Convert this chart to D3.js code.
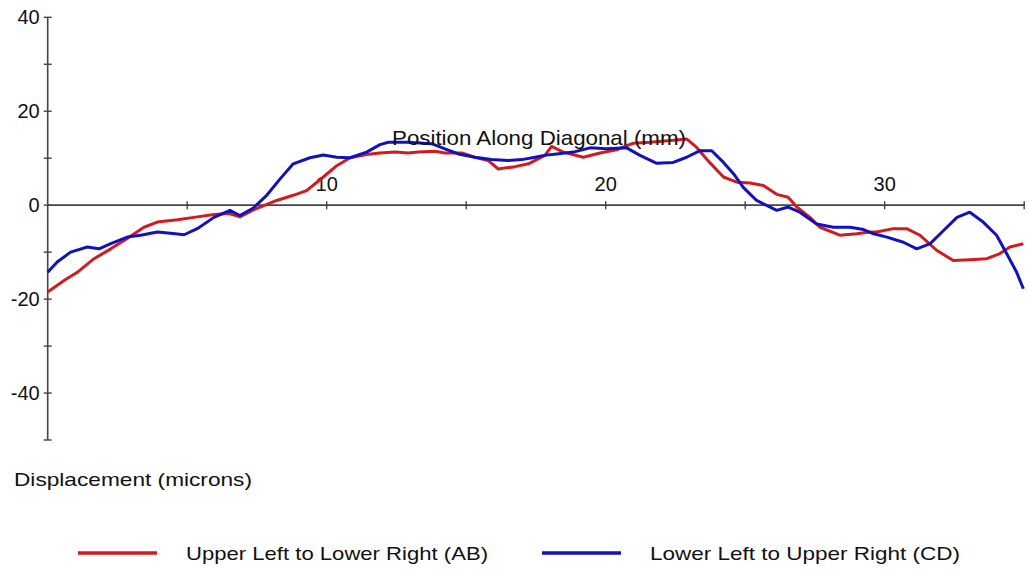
<!DOCTYPE html>
<html>
<head>
  <script src="https://d3js.org/d3.v7.min.js"></script>
  <style>
    body { margin: 0; background: #fff; }
    text { font-family: "Liberation Sans", Arial, sans-serif; fill: #111; }
  </style>
</head>
<body>
  <svg id="chart"></svg>
  <script>
    // position along diagonal (mm) and displacement (microns)
    var abX = [0.0, 0.6, 1.06, 1.66, 2.26, 2.85, 3.45, 3.93, 4.65, 5.24, 5.96, 6.5, 6.89, 7.37, 8.21, 8.8, 9.28, 9.88, 10.36, 10.84, 11.43, 11.91, 12.45, 12.92, 13.28, 13.88, 14.24, 14.84, 15.31, 15.79, 16.15, 16.75, 17.23, 17.82, 18.06, 18.48, 19.2, 19.8, 20.39, 20.99, 21.59, 22.42, 22.9, 23.26, 23.74, 24.22, 24.7, 25.17, 25.65, 26.13, 26.54, 26.85, 27.32, 27.68, 28.39, 29.0, 29.47, 29.71, 30.31, 30.79, 31.26, 31.86, 32.46, 33.05, 33.66, 34.13, 34.49, 34.97];
    var abY = [-18.5, -16, -14.3, -11.4, -9.3, -7.1, -4.7, -3.6, -3.1, -2.6, -2.0, -1.8, -2.5, -1.0, 1.0, 2.1, 3.1, 6.0, 8.4, 10.1, 10.8, 11.1, 11.3, 11.1, 11.3, 11.5, 11.1, 11.1, 10.2, 9.5, 7.7, 8.2, 8.8, 10.6, 12.5, 11.3, 10.2, 11.1, 11.8, 13.2, 13.4, 13.8, 14.1, 12.3, 9.0, 6.0, 4.9, 4.7, 4.2, 2.3, 1.7, -0.4, -2.6, -4.7, -6.4, -6.1, -5.7, -5.7, -5.0, -5.0, -6.4, -9.6, -11.8, -11.6, -11.4, -10.3, -8.9, -8.2];

    var cdX = [0.0, 0.34, 0.82, 1.42, 1.84, 2.26, 2.85, 3.33, 3.93, 4.41, 4.89, 5.36, 5.96, 6.53, 6.89, 7.37, 7.85, 8.33, 8.8, 9.4, 9.88, 10.36, 10.84, 11.43, 11.91, 12.21, 12.92, 13.76, 14.24, 14.72, 15.31, 15.91, 16.51, 16.99, 17.47, 17.8, 18.24, 18.84, 19.44, 20.04, 20.75, 21.23, 21.83, 22.42, 22.9, 23.38, 23.8, 24.22, 24.58, 24.93, 25.41, 26.13, 26.54, 26.96, 27.56, 28.16, 28.76, 29.24, 29.6, 30.08, 30.67, 31.15, 31.63, 32.11, 32.59, 33.05, 33.53, 34.01, 34.37, 34.73, 34.97];
    var cdY = [-14.3, -12.1, -10.0, -8.9, -9.3, -8.2, -6.8, -6.4, -5.7, -6.0, -6.3, -5.0, -2.6, -1.1, -2.2, -0.6, 2.1, 5.6, 8.8, 10.1, 10.7, 10.2, 10.1, 11.3, 12.9, 13.4, 13.4, 13.1, 12.0, 10.9, 10.2, 9.7, 9.5, 9.7, 10.2, 10.6, 10.9, 11.3, 12.2, 12.0, 12.2, 10.6, 8.9, 9.1, 10.2, 11.6, 11.6, 9.1, 6.7, 3.8, 1.0, -1.1, -0.4, -1.5, -4.0, -4.7, -4.7, -5.2, -6.1, -6.8, -7.9, -9.3, -8.2, -5.4, -2.6, -1.5, -3.6, -6.4, -10.3, -14.3, -17.8];

    var xMajor = [10, 20, 30];
    var xTicks = [5, 10, 15, 20, 25, 30, 35];
    var yMajor = [40, 20, 0, -20, -40];
    var yTicks = [40, 30, 20, 10, 0, -10, -20, -30, -40, -50];

    var seriesNames = ['Upper Left to Lower Right (AB)', 'Lower Left to Upper Right (CD)'];
    var colors = ['#d01c1f', '#1212bd'];

    var W = 1029, H = 571;
    var svg = d3.select('#chart').attr('width', W).attr('height', H);

    var x = d3.scaleLinear().domain([0, 35]).range([47.7, 1024.2]);
    var y = d3.scaleLinear().domain([-50, 40]).range([440, 17.3]);

    var axisColor = '#444';

    // x axis through zero
    svg.append('line')
      .attr('x1', x(0)).attr('x2', x(35))
      .attr('y1', y(0)).attr('y2', y(0))
      .attr('stroke', axisColor).attr('stroke-width', 1.6);
    svg.selectAll('.xtick').data(xTicks).enter().append('line')
      .attr('x1', function(d) { return x(d); }).attr('x2', function(d) { return x(d); })
      .attr('y1', y(0) - 4).attr('y2', y(0) + 4)
      .attr('stroke', axisColor).attr('stroke-width', 1.4);
    svg.selectAll('.xlab').data(xMajor).enter().append('text')
      .attr('x', function(d) { return x(d); })
      .attr('y', y(0) - 14)
      .attr('text-anchor', 'middle')
      .style('font-size', '20px')
      .text(function(d) { return d; });

    // y axis
    svg.append('line')
      .attr('x1', x(0)).attr('x2', x(0))
      .attr('y1', y(40)).attr('y2', y(-50))
      .attr('stroke', axisColor).attr('stroke-width', 1.6);
    svg.selectAll('.ytick').data(yTicks).enter().append('line')
      .attr('x1', x(0) - 4).attr('x2', x(0) + 4)
      .attr('y1', function(d) { return y(d); }).attr('y2', function(d) { return y(d); })
      .attr('stroke', axisColor).attr('stroke-width', 1.4);
    svg.selectAll('.ylab').data(yMajor).enter().append('text')
      .attr('x', x(0) - 8)
      .attr('y', function(d) { return y(d) + 7; })
      .attr('text-anchor', 'end')
      .style('font-size', '20px')
      .text(function(d) { return d; });

    // curves
    var line = d3.line()
      .x(function(d) { return x(d[0]); })
      .y(function(d) { return y(d[1]); });
    var series = [d3.zip(abX, abY), d3.zip(cdX, cdY)];
    series.forEach(function(s, i) {
      svg.append('path')
        .datum(s)
        .attr('d', line)
        .attr('fill', 'none')
        .attr('stroke', colors[i])
        .attr('stroke-width', 3)
        .attr('stroke-linejoin', 'round');
    });

    // titles (the original lettering is a bit wider than Arial)
    svg.append('text')
      .attr('x', 392).attr('y', 145)
      .attr('textLength', 294).attr('lengthAdjust', 'spacingAndGlyphs')
      .style('font-size', '21px')
      .text('Position Along Diagonal (mm)');
    svg.append('text')
      .attr('x', 14).attr('y', 486)
      .attr('textLength', 238).attr('lengthAdjust', 'spacingAndGlyphs')
      .style('font-size', '19px')
      .text('Displacement (microns)');

    // legend
    var legX = [78, 542];
    var legW = [302, 310];
    seriesNames.forEach(function(name, i) {
      svg.append('line')
        .attr('x1', legX[i]).attr('x2', legX[i] + 79)
        .attr('y1', 553).attr('y2', 553)
        .attr('stroke', colors[i]).attr('stroke-width', 3.5);
      svg.append('text')
        .attr('x', legX[i] + 108).attr('y', 560)
        .attr('textLength', legW[i]).attr('lengthAdjust', 'spacingAndGlyphs')
        .style('font-size', '19px')
        .text(name);
    });
  </script>
</body>
</html>
